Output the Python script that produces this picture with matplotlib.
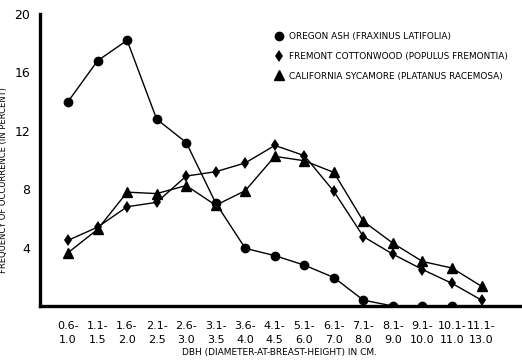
import numpy as np
import matplotlib.pyplot as plt
from matplotlib.lines import Line2D

# DBH classes (cm)
dbh_classes = ['0.6-\n1.0', '1.1-\n1.5', '1.6-\n2.0', '2.1-\n2.5', '2.6-\n3.0',
               '3.1-\n3.5', '3.6-\n4.0', '4.1-\n4.5', '5.1-\n6.0', '6.1-\n7.0',
               '7.1-\n8.0', '8.1-\n9.0', '9.1-\n10.0', '10.1-\n11.0', '11.1-\n13.0']

# frequency of occurrence (percent)
oregon_ash = [14.0, 16.8, 18.2, 12.8, 11.2, 7.05, 3.95, 3.45, 2.8, 1.95, 0.4, 0.0, 0.0, 0.0]
fremont_cottonwood = [4.5, 5.4, 6.8, 7.1, 8.9, 9.2, 9.8, 11.0, 10.3, 7.85, 4.75, 3.55, 2.5, 1.55, 0.4]
california_sycamore = [3.65, 5.25, 7.8, 7.7, 8.25, 6.9, 7.9, 10.25, 9.95, 9.15, 5.8, 4.3, 3.05, 2.6, 1.35]

yticks = [4, 8, 12, 16, 20]

fig = plt.figure(figsize=(5.22, 3.6), dpi=100)
ax = fig.add_axes([0.0766, 0.15, 0.9195, 0.811])

x = np.arange(len(dbh_classes))
lw = 1.0
ax.plot(x[:len(oregon_ash)], oregon_ash, color='black', lw=lw, marker='o', ms=6)
ax.plot(x, fremont_cottonwood, color='black', lw=lw, marker='d', ms=6.5, mew=0)
ax.plot(x, california_sycamore, color='black', lw=lw, marker='^', ms=6.5)

ax.set_xlim(-0.95, 15.3)
ax.set_ylim(0, 20)
ax.set_xticks(x)
ax.set_xticklabels(dbh_classes, fontsize=8, linespacing=1.5)
ax.set_yticks(yticks)
ax.set_yticklabels([str(t) for t in yticks], fontsize=9)
ax.tick_params(axis='y', length=0, pad=7)
ax.tick_params(axis='x', length=0, pad=11)

for s in ['top', 'right']:
    ax.spines[s].set_visible(False)
for s in ['left', 'bottom']:
    ax.spines[s].set_linewidth(2.4)

ax.set_ylabel('FREQUENCY OF OCCURRENCE (IN PERCENT)', fontsize=6)
ax.yaxis.set_label_coords(-0.067, 0.43)
ax.set_xlabel('DBH (DIAMETER-AT-BREAST-HEIGHT) IN CM.', fontsize=6.5, labelpad=2)

handles = [
    Line2D([], [], color='black', marker='o', ls='', ms=6),
    Line2D([], [], color='black', marker='d', ls='', ms=6.5, mew=0),
    Line2D([], [], color='black', marker='^', ls='', ms=6.5),
]
labels = ['OREGON ASH (FRAXINUS LATIFOLIA)',
          'FREMONT COTTONWOOD (POPULUS FREMONTIA)',
          'CALIFORNIA SYCAMORE (PLATANUS RACEMOSA)']
ax.legend(handles, labels, loc='upper left', bbox_to_anchor=(0.475, 0.965),
          frameon=False, fontsize=6.4, handlelength=0.6, handletextpad=0.9,
          labelspacing=1.2)

fig.savefig('out.png', dpi=100)
